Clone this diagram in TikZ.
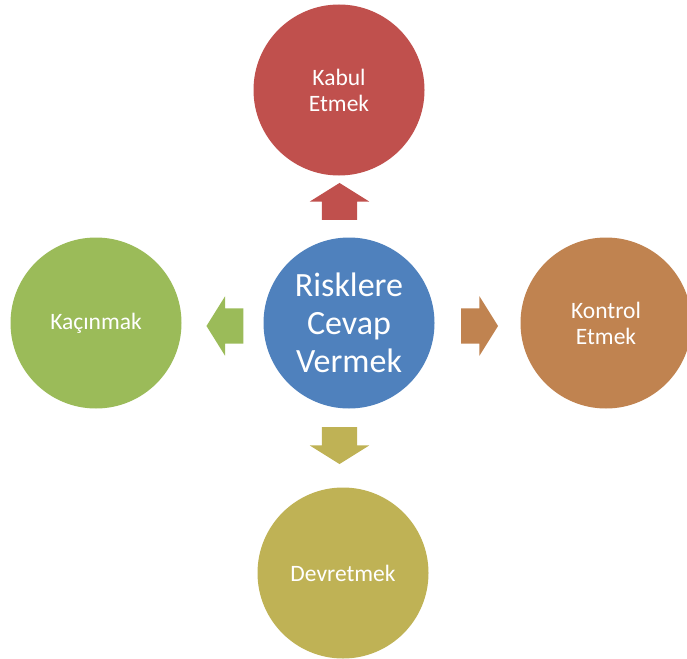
\documentclass[tikz,border=0pt]{standalone}
\usepackage{fontspec}
\setmainfont{Carlito}
\usetikzlibrary{shapes.arrows}

\definecolor{riskblue}{HTML}{4F81BD}
\definecolor{riskred}{HTML}{C0504D}
\definecolor{riskgreen}{HTML}{9BBB59}
\definecolor{riskbrown}{HTML}{C08350}
\definecolor{riskolive}{HTML}{BFB255}

\begin{document}
\begin{tikzpicture}[x=1pt, y=-1pt,
        kreis/.style={circle, minimum size=171pt, inner sep=0pt, text=white,
                      align=center, font=\fontsize{23.5}{26}\selectfont},
        pfeil/.style={single arrow, minimum height=37pt, inner xsep=0pt,
                      inner ysep=17.5pt, single arrow head extend=12pt,
                      single arrow tip angle=116},
        vpfeil/.style={pfeil, inner xsep=17.5pt, inner ysep=0pt}]
      \useasboundingbox (0,0) rectangle (687,658);
      \node[kreis, fill=riskblue, font=\fontsize{34}{38}\selectfont] (merkez) at (349,323) {Risklere\\Cevap\\Vermek};
      \node[kreis, fill=riskred] (kabul) at (339,90) {Kabul\\Etmek};
      \node[kreis, fill=riskgreen] (kacin) at (96,323) {Kaçınmak};
      \node[kreis, fill=riskbrown] (kontrol) at (606,323) {Kontrol\\Etmek};
      \node[kreis, fill=riskolive] (devret) at (343,573) {Devretmek};
      % block arrows from the centre
      \node[vpfeil, fill=riskred, shape border rotate=90] (okust) at (339.5,207) {};
      \node[pfeil, fill=riskgreen, shape border rotate=180] (oksol) at (230.5,326) {};
      \node[pfeil, fill=riskbrown] (oksag) at (474,326) {};
      \node[vpfeil, fill=riskolive, shape border rotate=270] (okalt) at (339.5,440) {};
    \end{tikzpicture}
\end{document}
